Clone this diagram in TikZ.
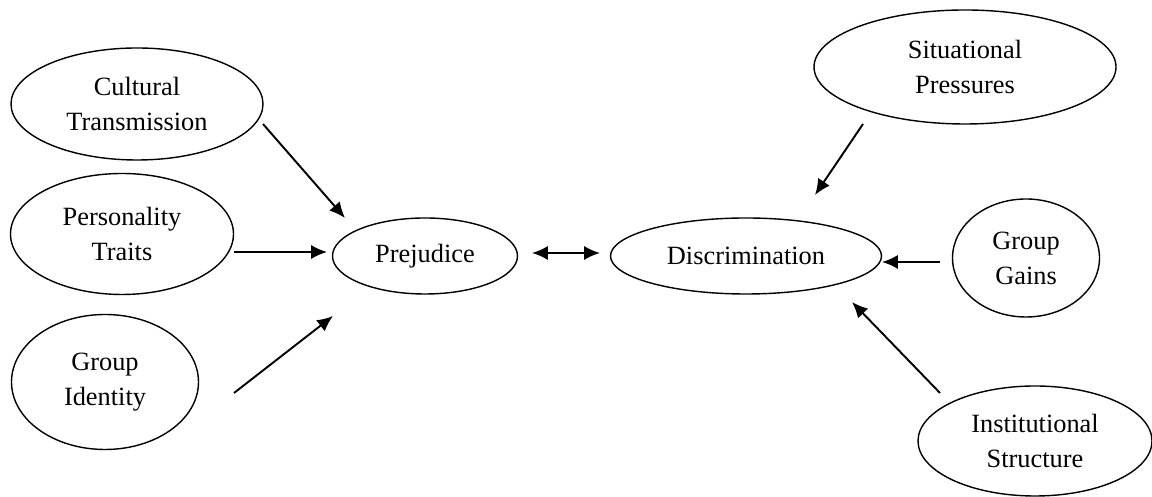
\documentclass[tikz,border=0pt]{standalone}
\usepackage{fontspec}
\setmainfont{Liberation Serif}
\usepackage{tikz}
\usetikzlibrary{shapes,arrows,positioning,calc,arrows.meta}

\begin{document}
\begin{tikzpicture}[
    factor/.style={draw, thick, ellipse, inner sep=0pt, align=center,
        font=\fontsize{15}{20}\selectfont},
    arr/.style={line width=1.1pt, -{Latex[length=9pt,width=8pt]}},
    twoarr/.style={line width=1.1pt, {Latex[length=9pt,width=8pt]}-{Latex[length=9pt,width=8pt]}}
]
    \useasboundingbox (0, 0) rectangle (23.04, 9.94);
    % left side
    \node [factor, minimum width=5.04cm, minimum height=2.24cm] (cult) at (2.74, 7.86) {Cultural\\Transmission};
    \node [factor, minimum width=4.46cm, minimum height=2.42cm] (pers) at (2.44, 5.26) {Personality\\Traits};
    \node [factor, minimum width=3.74cm, minimum height=2.70cm] (gid) at (2.10, 2.30) {Group\\Identity};
    % middle
    \node [factor, minimum width=3.70cm, minimum height=1.52cm] (prej) at (8.50, 4.82) {Prejudice};
    \node [factor, minimum width=5.42cm, minimum height=1.52cm] (disc) at (14.92, 4.82) {Discrimination};
    % right side
    \node [factor, minimum width=6.04cm, minimum height=2.28cm] (sit) at (19.30, 8.60) {Situational\\Pressures};
    \node [factor, minimum width=2.94cm, minimum height=2.36cm] (gain) at (20.52, 4.78) {Group\\Gains};
    \node [factor, minimum width=4.68cm, minimum height=2.20cm] (inst) at (20.70, 1.12) {Institutional\\Structure};

    % arrow ends (arrows stop short of the ellipses)
    \coordinate (cultout) at (5.26, 7.46);
    \coordinate (prejin1) at (6.90, 5.58);
    \coordinate (persout) at (4.68, 4.90);
    \coordinate (prejin2) at (6.54, 4.90);
    \coordinate (gidout) at (4.68, 2.08);
    \coordinate (prejin3) at (6.66, 3.62);
    \coordinate (prejout) at (10.64, 4.88);
    \coordinate (discin0) at (12.00, 4.88);
    \coordinate (sitout) at (17.26, 7.46);
    \coordinate (discin1) at (16.30, 6.04);
    \coordinate (gainout) at (18.80, 4.70);
    \coordinate (discin2) at (17.64, 4.70);
    \coordinate (instout) at (18.80, 2.08);
    \coordinate (discin3) at (17.04, 3.90);

    \draw [arr] (cultout) -- (prejin1);
    \draw [arr] (persout) -- (prejin2);
    \draw [arr] (gidout) -- (prejin3);
    \draw [twoarr] (prejout) -- (discin0);
    \draw [arr] (sitout) -- (discin1);
    \draw [arr] (gainout) -- (discin2);
    \draw [arr] (instout) -- (discin3);
\end{tikzpicture}
\end{document}
